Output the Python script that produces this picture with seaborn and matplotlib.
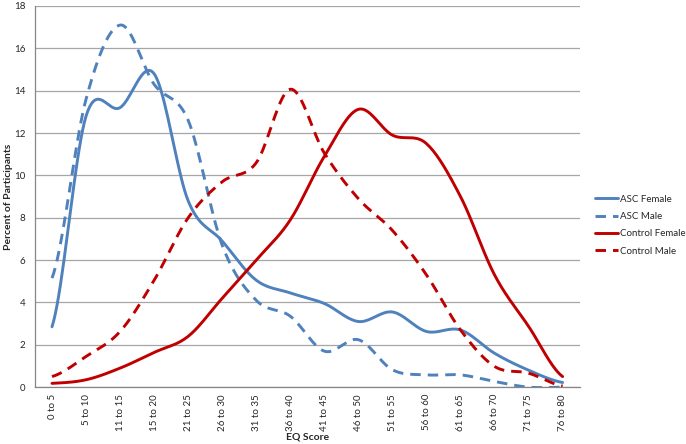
import numpy as np
import pandas as pd
import matplotlib
matplotlib.use('Agg')
import matplotlib.pyplot as plt
import seaborn as sns

# categories on the x axis
eq_bins = ['0 to 5', '5 to 10', '11 to 15', '15 to 20', '21 to 25', '26 to 30',
           '31 to 35', '36 to 40', '41 to 45', '46 to 50', '51 to 55', '56 to 60',
           '61 to 65', '66 to 70', '71 to 75', '76 to 80']

# percent of participants per group
asc_female = [2.85, 12.8, 13.2, 14.8, 8.8, 6.9, 5.05, 4.45, 3.95, 3.1, 3.55, 2.63, 2.7, 1.6, 0.8, 0.22]
asc_male = [5.15, 13.6, 17.1, 14.3, 12.6, 6.7, 4.1, 3.35, 1.7, 2.24, 0.82, 0.58, 0.58, 0.27, 0.0, 0.0]
control_female = [0.18, 0.35, 0.9, 1.64, 2.4, 4.2, 6.0, 7.9, 10.9, 13.12, 11.9, 11.5, 9.0, 5.3, 2.87, 0.5]
control_male = [0.5, 1.45, 2.63, 5.05, 8.0, 9.7, 10.6, 14.07, 11.05, 8.9, 7.4, 5.3, 2.7, 0.98, 0.66, 0.05]

series = {
    'ASC Female': asc_female,
    'ASC Male': asc_male,
    'Control Female': control_female,
    'Control Male': control_male,
}
colours = {'ASC Female': '#4F81BD', 'ASC Male': '#4F81BD',
           'Control Female': '#C00000', 'Control Male': '#C00000'}
dashed = {'ASC Female': False, 'ASC Male': True,
          'Control Female': False, 'Control Male': True}


def smooth(y, n=20):
    # Excel-style smoothed line (Catmull-Rom through the points)
    y = np.asarray(y, dtype=float)
    p = np.concatenate([[y[0]], y, [y[-1]]])
    xs, ys = [], []
    for i in range(len(y) - 1):
        p0, p1, p2, p3 = p[i], p[i + 1], p[i + 2], p[i + 3]
        t = np.linspace(0, 1, n, endpoint=False)
        b = (0.5 * ((2 * p1) + (-p0 + p2) * t + (2 * p0 - 5 * p1 + 4 * p2 - p3) * t ** 2
                    + (-p0 + 3 * p1 - 3 * p2 + p3) * t ** 3))
        xs.extend(i + t)
        ys.extend(b)
    xs.append(len(y) - 1)
    ys.append(y[-1])
    return np.array(xs), np.array(ys)


rows = []
for name, vals in series.items():
    xs, ys = smooth(vals)
    rows.append(pd.DataFrame({'x': xs, 'y': ys, 'group': name}))
df = pd.concat(rows, ignore_index=True)

sns.set_style('white')
plt.rcParams['font.family'] = ['Lato', 'DejaVu Sans']

fig = plt.figure(figsize=(6.86, 4.44), dpi=100)
ax = fig.add_axes([0.051, 0.128, 0.794, 0.8585])

for name in series:
    sub = df[df['group'] == name]
    ls = (0, (3.6, 2.4)) if dashed[name] else '-'
    sns.lineplot(x='x', y='y', data=sub, ax=ax, color=colours[name], lw=2.1,
                 linestyle=ls, label=name, sort=False)

ax.set_xlim(-0.5, len(eq_bins) - 0.5)
ax.set_ylim(0, 18)
ax.set_yticks(np.arange(0, 19, 2))
ax.set_xticks(range(len(eq_bins)))
ax.set_xticklabels(eq_bins, rotation=90, fontsize=7)
ax.tick_params(axis='y', labelsize=7, length=3, color='#868686', pad=4)
ax.tick_params(axis='x', length=0, pad=5)
ax.yaxis.grid(True, color='#a6a6a6', lw=0.9)
ax.set_axisbelow(True)
for s in ['top', 'right']:
    ax.spines[s].set_visible(False)
for s in ['left', 'bottom']:
    ax.spines[s].set_color('#868686')
    ax.spines[s].set_linewidth(0.9)

ax.set_xlabel('EQ Score', fontsize=7.5, fontweight='bold', va='center')
ax.xaxis.set_label_coords(0.5, -0.131)
ax.set_ylabel('Percent of Participants', fontsize=7.5, fontweight='bold')
ax.yaxis.set_label_coords(-0.041, 0.5)

leg = ax.legend(loc='center left', bbox_to_anchor=(1.012, 0.425), frameon=False,
                fontsize=7, handlelength=2.4, handletextpad=0.2, labelspacing=0.85,
                borderaxespad=0.5)

fig.savefig('out.png', dpi=100)
